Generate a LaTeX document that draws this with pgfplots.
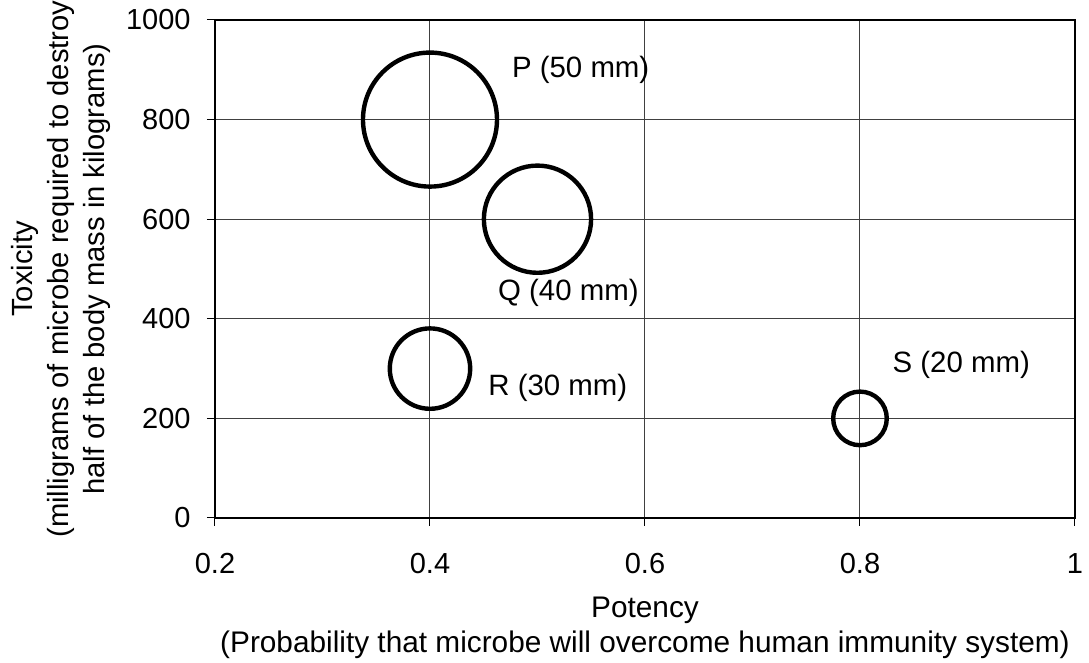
\documentclass[border=0pt]{standalone}
\usepackage{fontspec}
\setmainfont{Liberation Sans}
\usepackage{pgfplots}
\pgfplotsset{compat=1.18}
\usepackage{pgfplotstable}

% potency, toxicity, bubble size (mm)
\pgfplotstableread{
x   y    mm
0.4 800  50
0.5 600  40
0.4 300  30
0.8 200  20
}\bubbles

\begin{document}
\begin{tikzpicture}
\useasboundingbox (-107.5pt,-72.5pt) rectangle (437pt,259pt);
\begin{axis}[
  scale only axis, width=430pt, height=249pt,
  at={(0,0)}, anchor=south west,
  xmin=0.2, xmax=1, ymin=0, ymax=1000,
  xtick={0.2,0.4,0.6,0.8,1},
  ytick={0,200,400,600,800,1000},
  /pgf/number format/assume math mode=true,
  /pgf/number format/1000 sep={},
  grid=major,
  major grid style={line width=0.5pt, black!75},
  axis line style={line width=1pt},
  tick align=outside, tick pos=left,
  major tick length=4pt,
  tick style={line width=0.5pt, black},
  ticklabel style={font=\fontsize{14.5}{16}\selectfont, inner sep=0pt},
  xticklabel style={anchor=north, yshift=-13.5pt},
  yticklabel style={anchor=east, xshift=-8pt},
  xlabel={Potency\\(Probability that microbe will overcome human immunity system)},
  xlabel style={at={(axis description cs:0.5,0)}, anchor=north, yshift=-39.5pt,
    align=center, inner sep=0pt, font=\fontsize{14.9}{17.5}\selectfont},
  ylabel={Toxicity\\(milligrams of microbe required to destroy\\half of the body mass in kilograms)},
  ylabel style={at={(axis description cs:-0.1209,0.5)}, anchor=south, rotate=0,
    align=center, inner sep=0pt, font=\fontsize{14.6}{18}\selectfont},
  clip=false,
]
\addplot[scatter, only marks, mark=o,
  point meta=explicit,
  scatter/use mapped color={draw=black},
  mark options={line width=2.2pt, draw=black},
  visualization depends on={\thisrow{mm} \as \bubblemm},
  scatter/@pre marker code/.append style={/tikz/mark size=0.67pt*\bubblemm},
] table[x=x, y=y, meta=mm] {\bubbles};

\begin{scope}[every node/.style={anchor=west, inner sep=0pt, font=\fontsize{14.7}{17}\selectfont}]
\node at (axis cs:0.476,900) {P (50 mm)};
\node at (axis cs:0.463,453) {Q (40 mm)};
\node at (axis cs:0.454,262) {R (30 mm)};
\node at (axis cs:0.830,307) {S (20 mm)};
\end{scope}
\end{axis}
\end{tikzpicture}
\end{document}
